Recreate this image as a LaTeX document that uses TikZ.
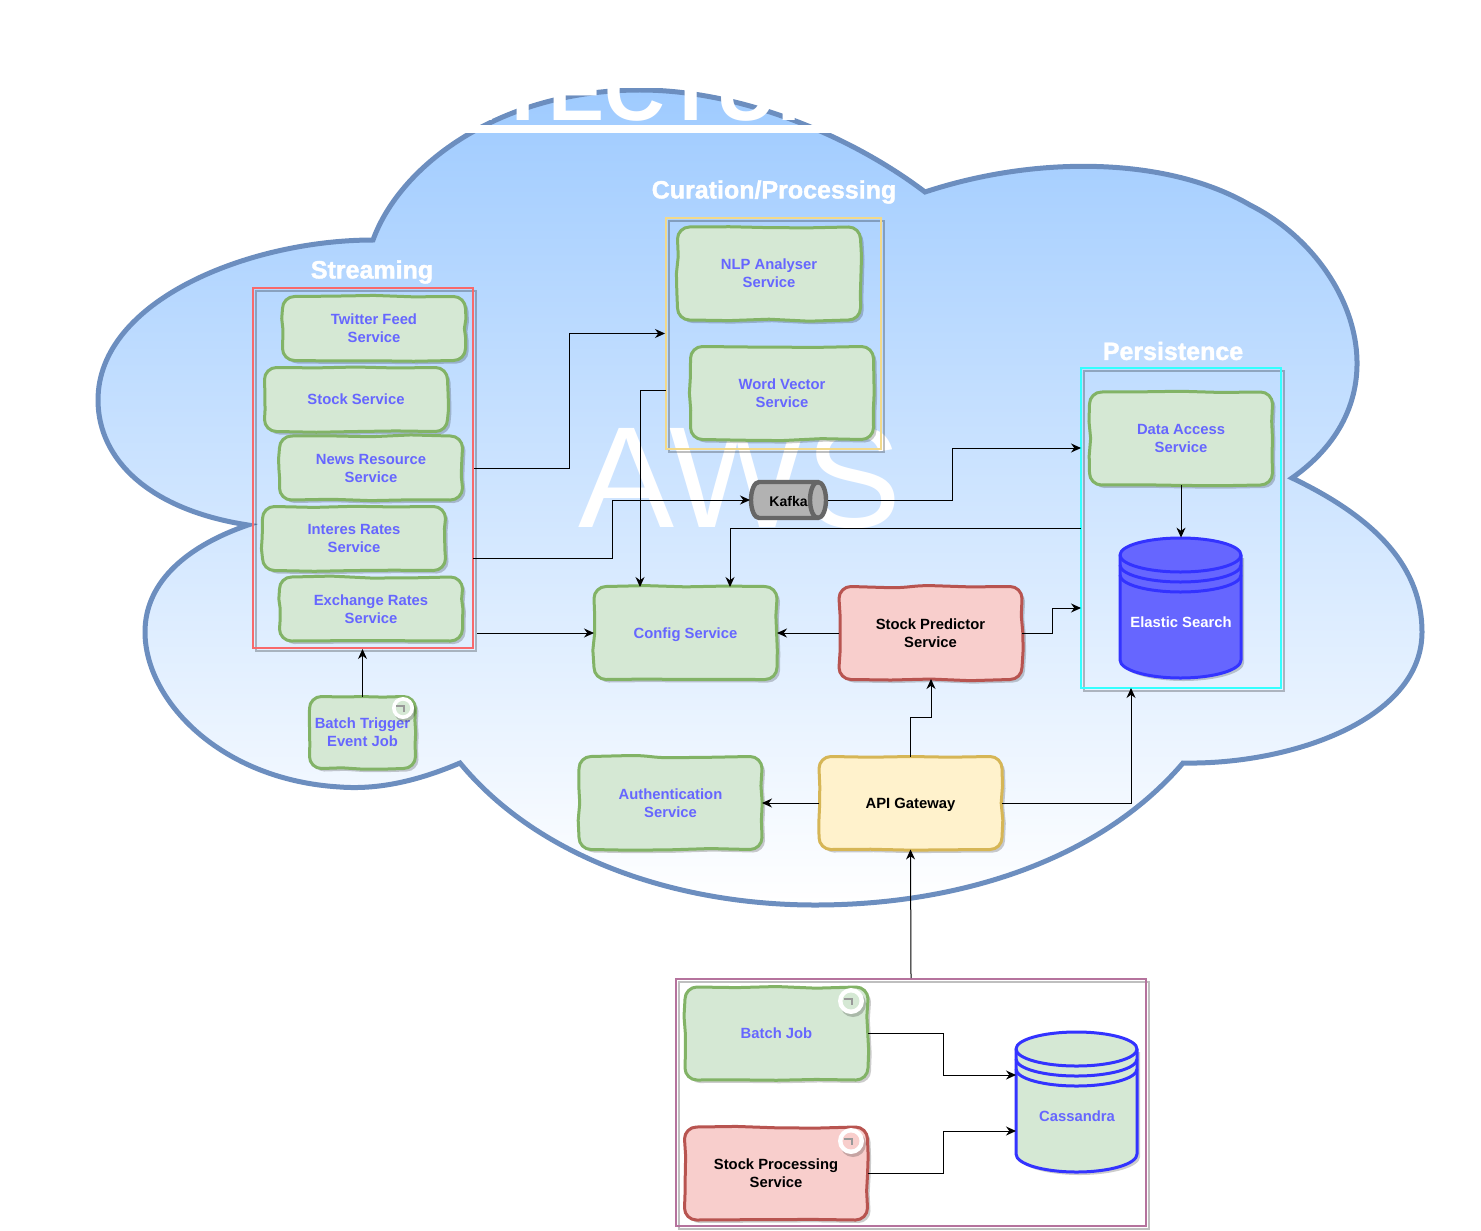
\documentclass[tikz,border=0pt]{standalone}
\usepackage{fontspec}
\setmainfont{Liberation Sans}
\newfontfamily\headfont{Liberation Sans}[BoldFeatures={FakeBold=1.6}]
\usetikzlibrary{arrows.meta, shadows}
\definecolor{cloudline}{HTML}{6C8EBF}
\definecolor{cloudtop}{HTML}{9FCBFF}
\definecolor{svcfill}{HTML}{D5E8D4}
\definecolor{svcline}{HTML}{82B366}
\definecolor{svctext}{HTML}{6666FF}
\definecolor{redfill}{HTML}{F8CECC}
\definecolor{redline}{HTML}{B85450}
\definecolor{yelfill}{HTML}{FFF2CC}
\definecolor{yelline}{HTML}{D6B656}
\definecolor{dbline}{HTML}{3333FF}
\definecolor{storeline}{HTML}{B5739D}
\definecolor{perline}{HTML}{33FFFF}
\definecolor{streamline}{HTML}{F8696B}
\definecolor{curline}{HTML}{F2D98A}
% hand drawn box: a rectangle whose edges waver a little
\newcommand{\wobblesec}[2]{%
	\pgfmathsetmacro\wnextx{\wsx+#1*\wdx+#2*\wnx}%
	\pgfmathsetmacro\wnexty{\wsy+#1*\wdy+#2*\wny}%
	\pgfmathsetmacro\waax{\wcx+.5*\wdx}\pgfmathsetmacro\waay{\wcy+.5*\wdy}%
	\pgfmathsetmacro\wbbx{\wnextx-.5*\wdx}\pgfmathsetmacro\wbby{\wnexty-.5*\wdy}%
	\pgfpathcurveto{\pgfpoint{\waax pt}{\waay pt}}{\pgfpoint{\wbbx pt}{\wbby pt}}{\pgfpoint{\wnextx pt}{\wnexty pt}}%
	\let\wcx\wnextx\let\wcy\wnexty}
\newcommand{\wobbleedge}[4]{%
	\def\wsx{#1}\def\wsy{#2}\def\wcx{#1}\def\wcy{#2}%
	\pgfmathsetmacro\wdx{(#3-#1)/4}\pgfmathsetmacro\wdy{(#4-#2)/4}%
	\pgfmathsetmacro\wnx{abs(\wdx)<.01 ? 1 : 0}\pgfmathsetmacro\wny{1-\wnx}%
	\pgfmathsetmacro\wamp{.6*(2*rnd-1)}\wobblesec{1}{\wamp}%
	\pgfmathsetmacro\wamp{.6*(2*rnd-1)}\wobblesec{2}{\wamp}%
	\pgfmathsetmacro\wamp{.6*(2*rnd-1)}\wobblesec{3}{\wamp}%
	\wobblesec{4}{0}}
\makeatletter
\pgfdeclareshape{wobblebox}{
	\inheritsavedanchors[from=rectangle]
	\inheritanchorborder[from=rectangle]
	\inheritanchor[from=rectangle]{center}
	\inheritanchor[from=rectangle]{north}
	\inheritanchor[from=rectangle]{south}
	\inheritanchor[from=rectangle]{east}
	\inheritanchor[from=rectangle]{west}
	\backgroundpath{
		\southwest \pgfmathsetmacro\wxa{\pgf@x/1pt}\pgfmathsetmacro\wya{\pgf@y/1pt}
		\northeast \pgfmathsetmacro\wxb{\pgf@x/1pt}\pgfmathsetmacro\wyb{\pgf@y/1pt}
		\pgfmathsetmacro\wxc{\wxa+6}\pgfmathsetmacro\wxd{\wxb-6}
		\pgfmathsetmacro\wyc{\wya+6}\pgfmathsetmacro\wyd{\wyb-6}
		\pgfmathsetmacro\wxe{\wxa+2.7}\pgfmathsetmacro\wxf{\wxb-2.7}
		\pgfmathsetmacro\wye{\wya+2.7}\pgfmathsetmacro\wyf{\wyb-2.7}
		\pgfpathmoveto{\pgfpoint{\wxc pt}{\wyb pt}}
		\wobbleedge{\wxc}{\wyb}{\wxd}{\wyb}
		\pgfpathcurveto{\pgfpoint{\wxf pt}{\wyb pt}}{\pgfpoint{\wxb pt}{\wyf pt}}{\pgfpoint{\wxb pt}{\wyd pt}}
		\wobbleedge{\wxb}{\wyd}{\wxb}{\wyc}
		\pgfpathcurveto{\pgfpoint{\wxb pt}{\wye pt}}{\pgfpoint{\wxf pt}{\wya pt}}{\pgfpoint{\wxd pt}{\wya pt}}
		\wobbleedge{\wxd}{\wya}{\wxc}{\wya}
		\pgfpathcurveto{\pgfpoint{\wxe pt}{\wya pt}}{\pgfpoint{\wxa pt}{\wye pt}}{\pgfpoint{\wxa pt}{\wyc pt}}
		\wobbleedge{\wxa}{\wyc}{\wxa}{\wyd}
		\pgfpathcurveto{\pgfpoint{\wxa pt}{\wyf pt}}{\pgfpoint{\wxe pt}{\wyb pt}}{\pgfpoint{\wxc pt}{\wyb pt}}
		\pgfpathclose
	}
}
\makeatother
\tikzset{
	svc/.style={shape=wobblebox, draw=svcline, fill=svcfill, line width=1.5pt, text=svctext, font=\bfseries\fontsize{7.4}{9}\selectfont,
		align=center, minimum width=90pt, minimum height=45pt, inner sep=0pt,
		general shadow={shadow xshift=1.5pt, shadow yshift=-1.5pt, fill=black, opacity=.2}},
	streamsvc/.style={svc, minimum height=30.5pt},
	redsvc/.style={svc, draw=redline, fill=redfill, text=black},
	yelsvc/.style={svc, draw=yelline, fill=yelfill, text=black},
	frame/.style={draw=#1, line width=1pt, inner sep=0pt,
		general shadow={shadow xshift=1.5pt, shadow yshift=-1.5pt, draw=black, opacity=.25, fill=none}},
	header/.style={text=white, font=\headfont\bfseries\fontsize{12.5}{14}\selectfont, inner sep=0pt},
	conn/.style={draw=black, line width=.5pt, -{Stealth[length=5pt, width=4.5pt]}},
	dbtext/.style={font=\bfseries\fontsize{7.4}{9}\selectfont, inner sep=0pt},
}
\begin{document}
\begin{tikzpicture}[x=.5pt, y=-.5pt]
	\pgfmathsetseed{11}
	\useasboundingbox (0,0) rectangle (1481,1230);
	% cloud
	\path[draw=cloudline, line width=2.5pt, top color=cloudtop, bottom color=white]
		(373,240) .. controls (400,165) and (500,90) .. (640,90)
		.. controls (740,90) and (850,135) .. (925,192)
		.. controls (1040,154) and (1170,158) .. (1250,205)
		.. controls (1350,255) and (1410,395) .. (1292,478)
		.. controls (1380,520) and (1422,570) .. (1422,632)
		.. controls (1422,720) and (1290,765) .. (1183,763)
		.. controls (1100,860) and (960,905) .. (815,905)
		.. controls (680,905) and (540,860) .. (460,763)
		.. controls (420,780) and (380,790) .. (340,787)
		.. controls (220,780) and (145,700) .. (145,632)
		.. controls (145,580) and (190,545) .. (248,525)
		.. controls (150,510) and (98,460) .. (98,400)
		.. controls (98,300) and (250,240) .. (373,240) -- cycle;
	% cut off title
	\fill[white] (0,0) rectangle (1481,88);
	\begin{scope}
		\clip (0,88) rectangle (1481,125);
		\node[anchor=base, text=white, inner sep=0pt, font=\bfseries\fontsize{42}{44}\selectfont] (title) at (563,121) {ARCHITECTURE};
	\end{scope}
	\fill[white] (232,125) rectangle (894,133);
	\node[text=white, inner sep=0pt, font=\fontsize{72}{74}\selectfont] (aws) at (740,478) {AWS};

	\node[header] (streamhead) at (372,272) {Streaming};
	\node[header] (curhead) at (774,192) {Curation/Processing};
	\node[header] (perhead) at (1173,351) {Persistence};

	\node[frame=streamline, minimum width=110pt, minimum height=180pt] (stream) at (363,468) {};
	\node[frame=curline, minimum width=107.5pt, minimum height=115.5pt] (cur) at (773.5,333.5) {};
	\node[frame=perline, minimum width=100pt, minimum height=160pt] (per) at (1181,528) {};
	\node[frame=storeline, minimum width=235pt, minimum height=123.5pt] (store) at (911,1102.5) {};

	\node[streamsvc] (twitter) at (374,328.5) {Twitter Feed\\Service};
	\node[streamsvc] (stock) at (356,399.5) {Stock Service};
	\node[streamsvc] (news) at (371,468) {News Resource\\Service};
	\node[streamsvc] (rates) at (354,538.5) {Interes Rates\\Service};
	\node[streamsvc] (exchange) at (371,609) {Exchange Rates\\Service};
	\node[svc, minimum width=51.5pt, minimum height=34.5pt] (trigger) at (362.5,732.5) {Batch Trigger\\Event Job};

	\node[svc] (nlp) at (769,273.5) {NLP Analyser\\Service};
	\node[svc] (word) at (782,393) {Word Vector\\Service};
	\node[svc] (access) at (1181,438.5) {Data Access\\Service};
	\node[svc, text depth=0pt] (config) at (685.5,633) {Config Service};
	\node[redsvc] (predictor) at (930.5,633) {Stock Predictor\\Service};
	\node[svc] (auth) at (670.5,803) {Authentication\\Service};
	\node[yelsvc, text depth=0pt] (gateway) at (910.5,803) {API Gateway};
	\node[svc, text depth=0pt] (batch) at (776.5,1033.5) {Batch Job};
	\node[redsvc] (processing) at (776,1173.5) {Stock Processing\\Service};

	% run markers
	\foreach \mx/\my/\mr/\mfill in {403/708/11/svcfill, 851/1001/13/svcfill, 851/1141/13/redfill}{
		\fill[black, opacity=.2] (\mx+2,\my+3) circle[radius=\mr];
		\fill[white] (\mx,\my) circle[radius=\mr];
		\fill[\mfill] (\mx,\my) circle[radius=\mr*.65];
		\draw[black!40, line width=.8pt] (\mx-7,\my-2) -- (\mx+1,\my-2) -- (\mx+1,\my+4);
	}

	% databases
	\foreach \nm/\cx/\cy/\bfill in {elastic/1180.5/608/svctext, cassandra/1076.5/1102/svcfill}{
		\fill[black, opacity=.2] (\cx-57.5,\cy-50) -- (\cx-57.5,\cy+55) arc[start angle=180, end angle=0, x radius=60.5, y radius=18] -- (\cx+63.5,\cy-50) -- cycle;
		\draw[dbline, fill=\bfill, line width=1.5pt, line join=round]
			(\cx-60.5,\cy-53) arc[start angle=180, end angle=360, x radius=60.5, y radius=17]
			-- (\cx+60.5,\cy+52) arc[start angle=0, end angle=180, x radius=60.5, y radius=18] -- cycle;
		\foreach \dy in {53,43,33}
			\draw[dbline, line width=1.5pt] (\cx-60.5,\cy-\dy) arc[start angle=180, end angle=0, x radius=60.5, y radius=17];
		\node[minimum width=60.5pt, minimum height=70pt, inner sep=0pt] (\nm) at (\cx,\cy) {};
	}
	\node[dbtext, text=white] (elastictxt) at (1181,622) {Elastic Search};
	\node[dbtext, text=svctext] (cassandratxt) at (1077,1116) {Cassandra};

	% kafka
	\draw[black!60, fill=black!30, line width=2.2pt] (759,482) -- (818,482) arc[start angle=270, end angle=450, x radius=8, y radius=18]
		-- (759,518) arc[start angle=90, end angle=270, x radius=8, y radius=18] -- cycle;
	\draw[black!60, line width=2.2pt] (818,482) arc[start angle=270, end angle=90, x radius=8, y radius=18];
	\node[dbtext, text=black, font=\bfseries\fontsize{7}{9}\selectfont] (kafka) at (788.5,501) {Kafka};
	\coordinate (kafkain) at (750,500);
	\coordinate (kafkaout) at (828,500);

	% connectors
	\coordinate (curout) at (666,390);
	\coordinate (cfgtop) at (640,587);
	\coordinate (cfgtopb) at (730,587);
	\coordinate (streamtokafka) at (473,558);
	\coordinate (streamtocfg) at (477,633);
	\coordinate (perkafka) at (1081,448);
	\coordinate (percfg) at (1081,528);
	\coordinate (perpred) at (1081,608);
	\coordinate (perapi) at (1131,688);
	\coordinate (predtop) at (931,679);
	\coordinate (cassup) at (1016,1075);
	\coordinate (casslow) at (1016,1131);

	\draw[conn] (stream.east) -- ++(95,0) |- (cur.west);
	\draw[conn] (streamtokafka) -- ++(139,0) |- (kafkain);
	\draw[conn] (streamtocfg) -- (config.west);
	\draw[conn] (trigger.north) -- (trigger.north |- stream.south);
	\draw[conn] (curout) -| (cfgtop);
	\draw[conn] (kafkaout) -- ++(124,0) |- (perkafka);
	\draw[conn] (access.south) -- (access.south |- elastic.north);
	\draw[conn] (percfg) -| (cfgtopb);
	\draw[conn] (predictor.west) -- (config.east);
	\draw[conn] (predictor.east) -- ++(30,0) |- (perpred);
	\draw[conn] (gateway.north) -- ++(0,-39) -| (predtop);
	\draw[conn] (gateway.west) -- (auth.east);
	\draw[conn] (gateway.east) -| (perapi);
	\draw[conn] (store.north) -- (gateway.south);
	\draw[conn] (batch.east) -- ++(75,0) |- (cassup);
	\draw[conn] (processing.east) -- ++(76,0) |- (casslow);
\end{tikzpicture}
\end{document}
